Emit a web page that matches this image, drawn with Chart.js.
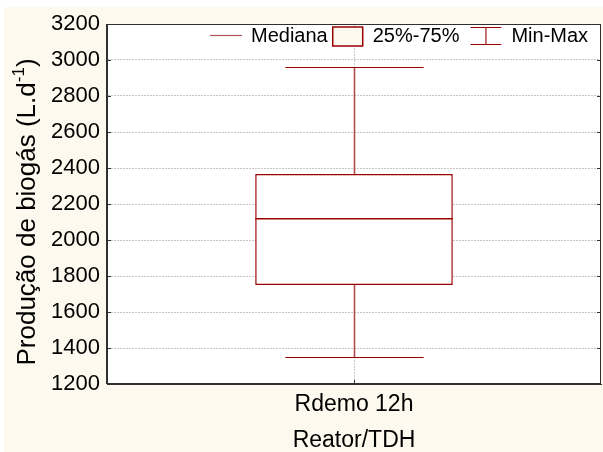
<!DOCTYPE html>
<html>
<head>
<meta charset="utf-8">
<script src="https://cdn.jsdelivr.net/npm/chart.js@4"></script>
<style>
  html, body { margin: 0; padding: 0; background: #ffffff; }
  #wrap { position: absolute; left: 0; top: 0; width: 603px; height: 452px; }
</style>
</head>
<body>
<div id="wrap"><canvas id="c" width="603" height="452"></canvas></div>
<script>
// Biogas production summary for one reactor / HRT condition
const categories = ['Rdemo 12h'];
const minValues = [1348];
const q1Values = [1750];
const medianValues = [2118];
const q3Values = [2367];
const maxValues = [2963];
const yTickValues = [1200, 1400, 1600, 1800, 2000, 2200, 2400, 2600, 2800, 3000, 3200];

const legendLabels = ['Mediana', '25%-75%', 'Min-Max'];
const xTitle = 'Reator/TDH';
const yTitleMain = 'Produção de biogás (L.d';
const yTitleSup = '-1';
const yTitleEnd = ')';

const FONT = '"Liberation Sans", Arial, Helvetica, sans-serif';
const RED = '#990000';
const SOFT_RED = 'rgba(160,40,40,0.8)';
const CREAM = '#fdf9ee';
const FRAME = '#303030';
const GRID = '#c6c6c6';

const boxData = categories.map((c, i) => [q1Values[i], q3Values[i]]);

const frame = {
  id: 'frame',
  beforeDraw(chart) {
    const { ctx, chartArea: a } = chart;
    ctx.save();
    ctx.fillStyle = '#ffffff';
    ctx.fillRect(0, 0, chart.width, chart.height);
    ctx.fillStyle = CREAM;
    ctx.fillRect(4, 7, chart.width - 4, chart.height - 7);
    ctx.fillStyle = '#ffffff';
    ctx.fillRect(a.left, a.top, a.right - a.left, a.bottom - a.top);
    ctx.restore();
  },
  beforeDatasetsDraw(chart) {
    // whiskers and caps, placed through the scales
    const { ctx } = chart;
    const x = chart.scales.x, y = chart.scales.y;
    const meta = chart.getDatasetMeta(0);
    ctx.save();
    categories.forEach((c, i) => {
      const cx = Math.round(x.getPixelForValue(i)) + 0.5;
      const bw = meta.data[i].width;
      const half = bw * 0.35;
      const yMax = Math.round(y.getPixelForValue(maxValues[i])) + 0.5;
      const yMin = Math.round(y.getPixelForValue(minValues[i])) + 0.5;
      const yQ3 = y.getPixelForValue(q3Values[i]);
      const yQ1 = y.getPixelForValue(q1Values[i]);
      ctx.strokeStyle = SOFT_RED;
      ctx.lineWidth = 1.6;
      ctx.beginPath();
      ctx.moveTo(cx, yMax); ctx.lineTo(cx, yQ3);
      ctx.moveTo(cx, yQ1); ctx.lineTo(cx, yMin);
      ctx.stroke();
      ctx.strokeStyle = RED;
      ctx.lineWidth = 1;
      ctx.beginPath();
      ctx.moveTo(cx - half, yMax); ctx.lineTo(cx + half, yMax);
      ctx.moveTo(cx - half, yMin); ctx.lineTo(cx + half, yMin);
      ctx.stroke();
    });
    ctx.restore();
  },
  afterDatasetsDraw(chart) {
    const { ctx } = chart;
    const y = chart.scales.y;
    const meta = chart.getDatasetMeta(0);
    ctx.save();
    ctx.strokeStyle = RED;
    ctx.lineWidth = 1.5;
    categories.forEach((c, i) => {
      const bar = meta.data[i];
      const ym = y.getPixelForValue(medianValues[i]);
      ctx.beginPath();
      ctx.moveTo(bar.x - bar.width / 2, ym);
      ctx.lineTo(bar.x + bar.width / 2, ym);
      ctx.stroke();
    });
    ctx.restore();
  },
  afterDraw(chart) {
    const { ctx, chartArea: a } = chart;
    const x = chart.scales.x, y = chart.scales.y;
    ctx.save();
    // plot frame
    ctx.strokeStyle = FRAME;
    ctx.lineWidth = 1;
    ctx.strokeRect(Math.round(a.left) - 0.5, Math.round(a.top) + 0.5,
                   Math.round(a.right - a.left), Math.round(a.bottom - a.top) - 1);
    // inward tick marks
    ctx.beginPath();
    yTickValues.forEach(v => {
      const py = Math.round(y.getPixelForValue(v)) + 0.5;
      ctx.moveTo(a.left, py); ctx.lineTo(a.left + 4, py);
      ctx.moveTo(a.right - 4, py); ctx.lineTo(a.right, py);
    });
    categories.forEach((c, i) => {
      const px = Math.round(x.getPixelForValue(i)) + 0.5;
      ctx.moveTo(px, a.bottom); ctx.lineTo(px, a.bottom - 4);
    });
    ctx.stroke();

    // axis titles
    ctx.fillStyle = '#000';
    ctx.textBaseline = 'middle';
    ctx.textAlign = 'center';
    ctx.font = '23px ' + FONT;
    ctx.fillText(xTitle, (a.left + a.right) / 2, 441);

    ctx.save();
    ctx.translate(28, 212);
    ctx.rotate(-Math.PI / 2);
    ctx.textAlign = 'left';
    const big = '26px ' + FONT, small = '17px ' + FONT;
    ctx.font = big;
    const w1 = ctx.measureText(yTitleMain).width;
    const w3 = ctx.measureText(yTitleEnd).width;
    ctx.font = small;
    const w2 = ctx.measureText(yTitleSup).width;
    let sx = -(w1 + w2 + w3) / 2;
    ctx.font = big;
    ctx.fillText(yTitleMain, sx, 0);
    sx += w1;
    ctx.font = small;
    ctx.fillText(yTitleSup, sx, -9);
    sx += w2;
    ctx.font = big;
    ctx.fillText(yTitleEnd, sx, 0);
    ctx.restore();

    // legend
    const ly = 36;
    ctx.font = '20px ' + FONT;
    ctx.textAlign = 'left';
    let lx = 210;
    ctx.strokeStyle = SOFT_RED;
    ctx.lineWidth = 1.2;
    ctx.beginPath();
    ctx.moveTo(lx, ly - 0.5); ctx.lineTo(lx + 32, ly - 0.5);
    ctx.stroke();
    lx += 41;
    ctx.fillText(legendLabels[0], lx, ly);
    lx += ctx.measureText(legendLabels[0]).width + 5;
    ctx.fillStyle = CREAM;
    ctx.fillRect(lx, 27, 30, 19);
    ctx.strokeStyle = RED;
    ctx.lineWidth = 1.5;
    ctx.strokeRect(lx, 27, 30, 19);
    lx += 40;
    ctx.fillStyle = '#000';
    ctx.fillText(legendLabels[1], lx, ly);
    lx += ctx.measureText(legendLabels[1]).width + 11;
    ctx.strokeStyle = RED;
    ctx.lineWidth = 1;
    ctx.beginPath();
    ctx.moveTo(lx, 27.5); ctx.lineTo(lx + 31, 27.5);
    ctx.moveTo(lx, 44.5); ctx.lineTo(lx + 31, 44.5);
    ctx.stroke();
    ctx.strokeStyle = SOFT_RED;
    ctx.lineWidth = 1.6;
    ctx.beginPath();
    ctx.moveTo(lx + 15.5, 27.5); ctx.lineTo(lx + 15.5, 44.5);
    ctx.stroke();
    lx += 41;
    ctx.fillStyle = '#000';
    ctx.fillText(legendLabels[2], lx, ly);
    ctx.restore();
  }
};

new Chart(document.getElementById('c'), {
  type: 'bar',
  data: {
    labels: categories,
    datasets: [{
      label: legendLabels[1],
      data: boxData,
      backgroundColor: '#ffffff',
      borderColor: RED,
      borderWidth: 1.5,
      borderSkipped: false,
      barPercentage: 0.4,
      categoryPercentage: 1.0
    }]
  },
  options: {
    responsive: false,
    animation: false,
    devicePixelRatio: 1,
    layout: { padding: { left: 0, right: 2, top: 24, bottom: 0 } },
    plugins: { legend: { display: false }, tooltip: { enabled: false }, title: { display: false } },
    scales: {
      x: {
        offset: true,
        grid: { display: true, offset: false, color: GRID, drawTicks: false },
        border: { display: true, color: FRAME, dash: [2, 1] },
        ticks: { color: '#000', font: { family: FONT, size: 23 }, padding: 7 },
        afterFit(s) { s.height = 68; }
      },
      y: {
        min: 1200,
        max: 3200,
        grid: { color: GRID, drawTicks: false },
        border: { display: true, color: FRAME, dash: [2, 1] },
        ticks: {
          stepSize: 200,
          color: '#000',
          padding: 7,
          font: { family: FONT, size: 22 },
          callback: v => String(v)
        },
        afterBuildTicks(s) { s.ticks = yTickValues.map(v => ({ value: v })); },
        afterFit(s) { s.width = 107; }
      }
    }
  },
  plugins: [frame]
});
</script>
</body>
</html>
